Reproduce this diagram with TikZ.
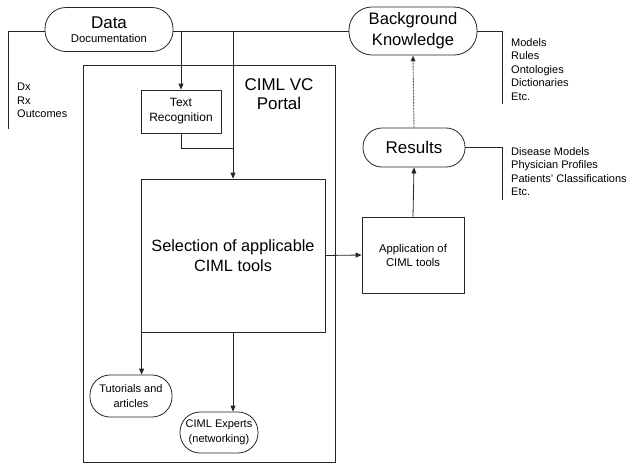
\documentclass[tikz,border=0pt]{standalone}
\usepackage{fontspec}
\setmainfont{Liberation Sans}
\usetikzlibrary{arrows.meta,positioning}
\begin{document}
\begin{tikzpicture}[x=1pt,y=-1pt,
  ln/.style={line width=0.8pt,draw=black!85},
  arr/.style={ln,-{Triangle[length=6pt,width=5pt]}},
  dsh/.style={line width=0.9pt,draw=black!70,dash pattern=on 2pt off 1pt,-{Triangle[length=6pt,width=5pt,fill=black]}},
  pill/.style={ln,rectangle,rounded corners=#1,inner sep=0pt,align=center},
  box/.style={ln,rectangle,inner sep=0pt,align=center},
  small/.style={font=\fontsize{11}{13.5}\selectfont,align=left,inner sep=0pt},
  mid/.style={font=\fontsize{11}{14.5}\selectfont},
  big/.style={font=\fontsize{16.6}{21}\selectfont}
]
\useasboundingbox (0,0) rectangle (629,472);
% portal
\node[box,minimum width=252pt,minimum height=397pt] (portal) at (209,263.5) {};
\node[align=center,inner sep=0pt,font=\fontsize{17}{18.5}\selectfont] (ptitle) at (279,94) {CIML VC\\Portal};
% nodes
\node[pill=21pt,minimum width=128pt,minimum height=44pt] (data) at (109,29.5)
  {\fontsize{17}{19}\selectfont Data\\[2pt]\fontsize{11.3}{13}\selectfont Documentation};
\node[pill=23pt,minimum width=128pt,minimum height=48pt,big] (bk) at (413,31)
  {Background\\Knowledge};
\node[pill=19pt,minimum width=102pt,minimum height=39pt,font=\fontsize{17}{19}\selectfont] (res) at (414,147.5) {Results};
\node[box,minimum width=80pt,minimum height=43pt,font=\fontsize{12}{15}\selectfont] (tr) at (181,111.5) {Text\\Recognition};
\node[box,minimum width=184pt,minimum height=153pt,font=\fontsize{16.3}{20}\selectfont] (sel) at (233,255.5) {Selection of applicable\\CIML tools};
\node[box,minimum width=102pt,minimum height=76pt,font=\fontsize{11.3}{14}\selectfont] (app) at (413,255) {Application of\\CIML tools};
\node[pill=20pt,minimum width=82pt,minimum height=42pt,mid] (tut) at (131,396) {Tutorials and\\articles};
\node[pill=20pt,minimum width=78pt,minimum height=41pt,mid] (exp) at (219,432.5) {CIML Experts\\(networking)};
% side texts
\node[small,anchor=north west] (dx) at (17,83) {Dx\\Rx\\Outcomes};
\node[small,anchor=north west] (bkt) at (511,38) {Models\\Rules\\Ontologies\\Dictionaries\\Etc.};
\node[small,anchor=north west] (rest) at (511,147) {Disease Models\\Physician Profiles\\Patients' Classifications\\Etc.};
% coordinates
\coordinate (j1) at (181,31);
\coordinate (j2) at (233,31);
\coordinate (j3) at (233,148);
\coordinate (l1) at (8,31);
\coordinate (l2) at (8,129);
\coordinate (b1) at (502,31);
\coordinate (b2) at (502,104);
\coordinate (r1) at (502,147.5);
\coordinate (r2) at (502,200);
% connectors
\draw[ln] (data.east|-j1) -- (bk.west|-j1);
\draw[ln] (data.west|-l1) -- (l1) -- (l2);
\draw[ln] (bk.east|-b1) -- (b1) -- (b2);
\draw[ln] (res.east) -- (r1) -- (r2);
\draw[arr] (j1) -- (tr.north);
\draw[arr] (j2) -- (sel.north);
\draw[ln] (tr.south) |- (j3);
\draw[arr] (sel.east) -- (app.west);
\draw[arr] (app.north) -- (res.south);
\draw[dsh] (res.north) -- (bk.south);
\draw[arr] ([xshift=1pt]sel.south west) -- ([xshift=1pt]sel.south west |- tut.north);
\draw[arr] (sel.south) -- (sel.south |- exp.north);
\end{tikzpicture}
\end{document}
